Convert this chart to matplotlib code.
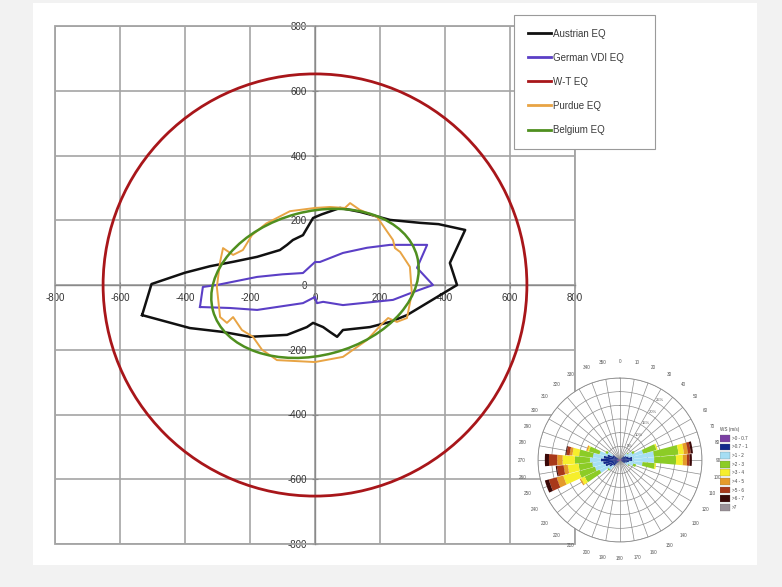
import numpy as np
import matplotlib.pyplot as plt
from matplotlib.patches import Circle, Ellipse, Rectangle
from matplotlib.lines import Line2D

plt.rcParams['font.family'] = ['Liberation Sans', 'DejaVu Sans']
plt.rcParams['axes.unicode_minus'] = False

# ---------------- main chart data ----------------
series_names = ["Austrian EQ", "German VDI EQ", "W-T EQ", "Purdue EQ", "Belgium EQ"]
series_colors = ["#111111", "#5b3fc6", "#a8161a", "#e8a444", "#4f8f1f"]

austrian_x = [-532, -503, -400, -323, -250, -178, -108, -86, -68, -37, -6, 20, 77, 138,
              231, 323, 380, 462, 415, 437, 283, 231, 169, 86, 68, 46, 25, -6, -25, -86,
              -200, -283, -385, -532]
austrian_y = [-93, 3, 38, 58, 72, 87, 108, 124, 139, 154, 207, 218, 238, 226,
              201, 192, 188, 170, 68, 0, -93, -114, -130, -139, -160, -145, -130, -117, -130, -154,
              -160, -145, -133, -93]

german_x = [-354, -345, -302, -178, -100, -37, 0, 15, 86, 160, 231, 345, 314, 363, 302, 240,
            86, 25, 6, 0, -37, -178, -262, -354]
german_y = [-68, -6, 0, 25, 33, 37, 71, 71, 99, 115, 124, 124, 53, 0, -22, -46,
            -62, -52, -56, -37, -56, -77, -71, -68]

wt_radius = 652

purdue_x = [0, 46, 92, 108, 138, 191, 240, 246, 262, 292, 298, 283, 252, 225, 209, 160, 86, 0,
            -117, -163, -191, -225, -252, -271, -292, -302, -292, -283, -252, -222, -194, -150,
            -77, 0]
purdue_y = [238, 241, 238, 253, 232, 210, 139, 114, 102, 56, -25, -102, -114, -102, -117, -170,
            -222, -238, -232, -200, -160, -139, -99, -117, -99, -6, 71, 114, 93, 108, 154, 190,
            228, 238]

belgium_center = (0, 5)
belgium_axes = (650, 444)      # full width, full height
belgium_angle = 15

ticks = list(range(-800, 801, 200))

# ---------------- wind rose data ----------------
speed_bins = [">0 - 0.7", ">0.7 - 1", ">1 - 2", ">2 - 3", ">3 - 4", ">4 - 5", ">5 - 6", ">6 - 7", ">7"]
speed_colors = ["#7b3fa3", "#132a8c", "#a6def4", "#8ccc26", "#f6ee2c", "#e59a2a", "#a8381a", "#3a0808", "#9a9098"]
rose_dirs = [50, 60, 70, 80, 90, 100, 110, 120, 230, 240, 250, 260, 270, 280, 290, 300]
rose_ws1 = [0.5, 0.6, 0.8, 1.0, 1.0, 0.8, 0.6, 0.5, 0.6, 0.8, 1.0, 1.2, 1.2, 1.0, 0.8, 0.6]
rose_ws2 = [1.5, 2.0, 2.5, 3.5, 3.5, 2.5, 2.0, 1.5, 2.5, 3.5, 4.5, 5.0, 5.8, 5.0, 4.0, 2.5]
rose_ws3 = [1.5, 2.5, 5.5, 8.0, 8.0, 5.0, 2.5, 1.5, 2.0, 4.0, 4.0, 4.0, 4.0, 4.0, 3.0, 2.0]
rose_ws4 = [0.3, 0.8, 5.0, 9.0, 8.0, 4.5, 1.0, 0.3, 0.5, 6.0, 6.0, 5.0, 5.5, 5.0, 4.0, 0.8]
rose_ws5 = [0.0, 0.0, 0.5, 2.0, 2.5, 0.5, 0.0, 0.0, 0.0, 1.5, 6.0, 4.0, 4.5, 2.5, 0.5, 0.0]
rose_ws6 = [0.0, 0.0, 0.0, 1.5, 1.5, 0.0, 0.0, 0.0, 0.0, 0.5, 2.5, 1.5, 2.0, 1.0, 0.5, 0.0]
rose_ws7 = [0.0, 0.0, 0.0, 1.0, 1.0, 0.0, 0.0, 0.0, 0.0, 0.0, 3.0, 2.5, 3.0, 1.2, 0.0, 0.0]
rose_ws8 = [0.0, 0.0, 0.0, 0.8, 0.8, 0.0, 0.0, 0.0, 0.0, 0.0, 1.5, 0.4, 1.5, 0.3, 0.0, 0.0]
rose_ws9 = [0.0] * 16
rose_rings = [5, 10, 15, 20, 25, 30]

# ---------------- figure ----------------
W, H = 782, 587
fig = plt.figure(figsize=(W / 100, H / 100), dpi=100)
fig.patch.set_facecolor("#f2f2f2")
fig.add_artist(Rectangle((33 / W, (H - 565) / H), (757 - 33) / W, (565 - 3) / H,
                         transform=fig.transFigure, facecolor="white", edgecolor="none", zorder=0))

ax = fig.add_axes([55 / W, (H - 544) / H, 520 / W, 518 / H])
ax.set_facecolor("white")
ax.set_xlim(-800, 800)
ax.set_ylim(-800, 800)
ax.set_xticks(ticks)
ax.set_yticks(ticks)
ax.tick_params(labelsize=7, color="#8a8a8a", labelcolor="#333333",
               direction="inout", length=5, width=0.8)
ax.grid(True, color="#a4a4a4", lw=1.2)
ax.set_axisbelow(True)
for s in ["top", "right"]:
    ax.spines[s].set_visible(False)
ax.spines["left"].set_position("zero")
ax.spines["bottom"].set_position("zero")
for s in ["left", "bottom"]:
    ax.spines[s].set_color("#8a8a8a")
    ax.spines[s].set_linewidth(1.0)
ax.add_patch(Rectangle((0, 0), 1, 1, transform=ax.transAxes, fill=False,
                       edgecolor="#a4a4a4", lw=1.3, clip_on=False, zorder=1))

ax.add_patch(Circle((0, 0), wt_radius, fill=False, edgecolor=series_colors[2], lw=2.0, zorder=3))
ax.plot(austrian_x, austrian_y, color=series_colors[0], lw=1.8, zorder=4)
ax.plot(german_x, german_y, color=series_colors[1], lw=1.5, zorder=4)
ax.plot(purdue_x, purdue_y, color=series_colors[3], lw=1.4, zorder=4)
ax.add_patch(Ellipse(belgium_center, belgium_axes[0], belgium_axes[1], angle=belgium_angle,
                     fill=False, edgecolor=series_colors[4], lw=1.8, zorder=5))

handles = [Line2D([], [], color=c, lw=2.0) for c in series_colors]
leg = ax.legend(handles, series_names, loc="upper left",
                bbox_to_anchor=(514 / W, 1 - 15 / H, 141 / W, 0.0), bbox_transform=fig.transFigure,
                mode="expand", fontsize=7, labelspacing=1.45, borderpad=1.4,
                handlelength=2.4, handletextpad=0.2, frameon=True, fancybox=False,
                edgecolor="#9a9a9a", framealpha=1.0, borderaxespad=0.0)
leg.get_frame().set_linewidth(0.8)
for t in leg.get_texts():
    t.set_color("#3a3a3a")

# ---------------- wind rose inset ----------------
wr = fig.add_axes([538 / W, (H - 542) / H, 164 / W, 164 / H], projection="polar")
wr.set_theta_zero_location("N")
wr.set_theta_direction(-1)
wr.set_ylim(0, 30)
wr.set_rgrids(rose_rings, labels=[f"{r}%" for r in rose_rings[:-1]] + [""], angle=32,
              fontsize=3, color="#555555")
wr.set_xticks(np.deg2rad(np.arange(0, 360, 10)))
wr.set_xticklabels([str(d) for d in range(0, 360, 10)], fontsize=3.3, color="#555555")
wr.tick_params(axis="x", pad=1.5)
wr.grid(color="#8c8c8c", lw=0.5)
wr.spines["polar"].set_color("#8c8c8c")
wr.spines["polar"].set_linewidth(0.6)

theta = np.deg2rad(rose_dirs)
width = np.deg2rad(9.5)
bottom = np.zeros(len(rose_dirs))
for vals, col in zip([rose_ws1, rose_ws2, rose_ws3, rose_ws4, rose_ws5,
                      rose_ws6, rose_ws7, rose_ws8, rose_ws9], speed_colors):
    v = np.array(vals)
    wr.bar(theta, v, width=width, bottom=bottom, color=col, edgecolor="none", zorder=3)
    bottom += v

# legend of the wind rose
lg = fig.add_axes([720 / W, (H - 514) / H, 40 / W, 88 / H])
lg.set_xlim(0, 1)
lg.set_ylim(0, 10)
lg.axis("off")
lg.text(0.0, 9.6, "WS (m/s)", fontsize=3.3, color="#444444", va="center", ha="left")
for i, (lab, col) in enumerate(zip(speed_bins, speed_colors)):
    y = 8.6 - i * 0.98
    lg.add_patch(Rectangle((0.0, y - 0.38), 0.25, 0.76, facecolor=col, edgecolor="#666666", lw=0.2))
    lg.text(0.3, y, lab, fontsize=3.3, color="#444444", va="center", ha="left")

fig.savefig("out.png", dpi=100, facecolor=fig.get_facecolor())
